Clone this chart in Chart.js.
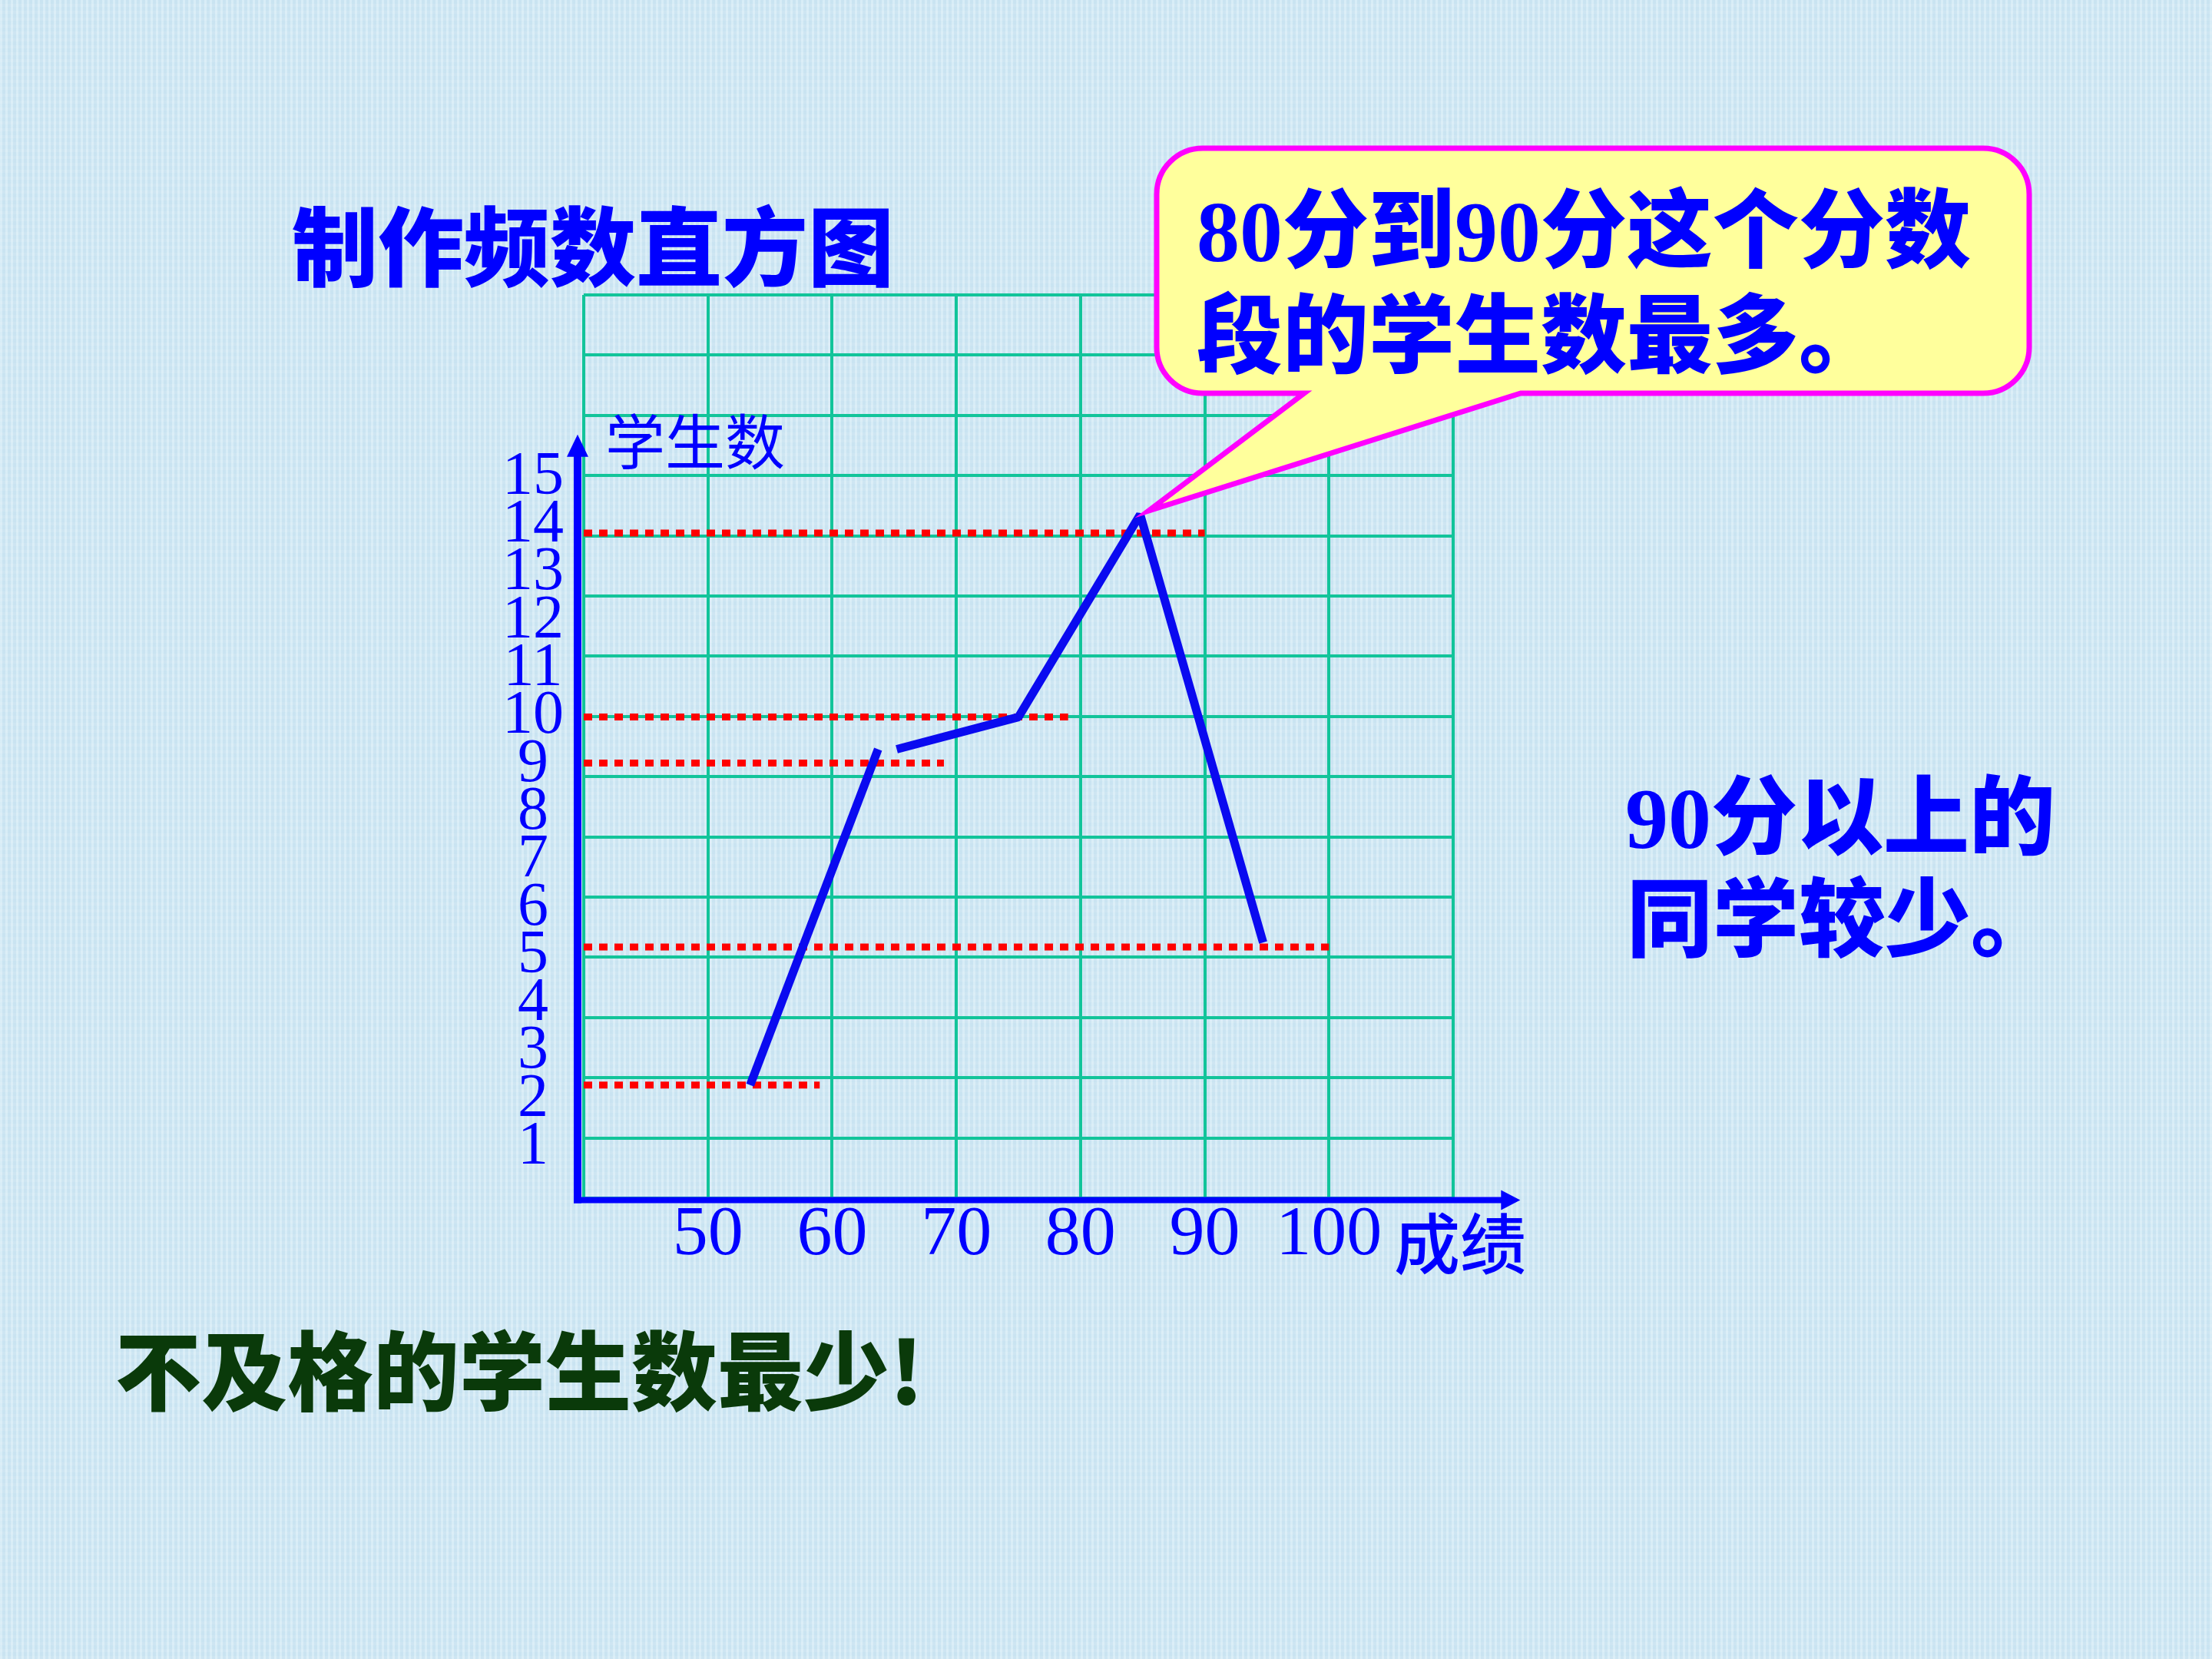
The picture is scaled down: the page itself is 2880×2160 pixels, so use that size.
<!DOCTYPE html>
<html>
<head>
<meta charset="utf-8">
<script src="https://cdn.jsdelivr.net/npm/chart.js@4.4.1/dist/chart.umd.min.js"></script>
<style>
html,body{margin:0;padding:0;}
body{width:2880px;height:2160px;overflow:hidden;background-color:#d0e9f5;
background-image:
 repeating-linear-gradient(90deg, rgba(255,255,255,0.16) 0px, rgba(255,255,255,0.16) 3px, rgba(20,80,140,0.035) 3px, rgba(20,80,140,0.035) 7px),
 repeating-linear-gradient(0deg, rgba(255,255,255,0.10) 0px, rgba(255,255,255,0.10) 4px, rgba(0,0,0,0) 4px, rgba(0,0,0,0) 9px);}
canvas{display:block;}
</style>
</head>
<body>
<canvas id="c" width="2880" height="2160" style="width:2880px;height:2160px"></canvas>
<script>
// ---- data ----
const scoreTickLabels = [50, 60, 70, 80, 90, 100];
const countTickLabels = [1, 2, 3, 4, 5, 6, 7, 8, 9, 10, 11, 12, 13, 14, 15];
const binCounts = [2, 9, 10, 14, 5];            // students in 50-60, 60-70, 70-80, 80-90, 90-100
const guideEndScores = [59, 69, 79, 90, 100];  // where each red dotted guide stops
const lineAScores = [53.4, 63.7];
const lineACounts = [2.0, 9.3];
const lineBScores = [65.2, 75.0, 84.8, 94.7];
const lineBCounts = [9.3, 10.0, 14.4, 5.1];
const titleText = '制作频数直方图';
const calloutLines = ['80分到90分这个分数', '段的学生数最多。'];
const noteLines = ['90分以上的', '同学较少。'];
const bottomText = '不及格的学生数最少!';
const yAxisTitle = '学生数';
const xAxisTitle = '成绩';

const BLUE = '#0000ff';
const GRID = '#12c49a';
const SERIF = "'Liberation Serif','Times New Roman',serif";
const CJK = "'Noto Sans CJK SC','Noto Sans',sans-serif";
const MIX = "'Liberation Serif','Noto Sans CJK SC',serif";

const datasets = [];
datasets.push({
  data: lineAScores.map((x, i) => ({x, y: lineACounts[i]})),
  borderColor: '#0a0af0', borderWidth: 11, pointRadius: 0, tension: 0,
  borderJoinStyle: 'bevel', borderCapStyle: 'butt', xAxisID: 'x', yAxisID: 'y'
});
datasets.push({
  data: lineBScores.map((x, i) => ({x, y: lineBCounts[i]})),
  borderColor: '#0a0af0', borderWidth: 11, pointRadius: 0, tension: 0,
  borderJoinStyle: 'bevel', borderCapStyle: 'butt', xAxisID: 'x', yAxisID: 'y'
});
binCounts.forEach((c, i) => {
  datasets.push({
    data: [{x: 40, y: c}, {x: guideEndScores[i], y: c}],
    borderColor: '#ff0000', borderWidth: 9, borderDash: [11, 9], pointRadius: 0,
    borderCapStyle: 'butt', xAxisID: 'x', yAxisID: 'y'
  });
});

function txt(ctx, s, x, y, font, color) {
  ctx.save();
  ctx.font = font; ctx.fillStyle = color;
  ctx.textAlign = 'left'; ctx.textBaseline = 'alphabetic';
  ctx.fillText(s, x, y);
  ctx.restore();
}

const decor = {
  id: 'decor',
  afterDatasetsDraw(chart) {
    const {ctx, chartArea: ca, scales} = chart;
    const axX = ca.left - 8;
    const axY = ca.bottom + 2.5;
    const yTip = scales.yLab.getPixelForValue(15.9);
    const xTip = scales.x.getPixelForValue(115.4);
    ctx.save();
    ctx.strokeStyle = BLUE; ctx.fillStyle = BLUE;
    ctx.lineWidth = 10;
    ctx.beginPath(); ctx.moveTo(axX, axY + 4); ctx.lineTo(axX, yTip + 26); ctx.stroke();
    ctx.beginPath(); ctx.moveTo(axX, yTip); ctx.lineTo(axX - 14, yTip + 29); ctx.lineTo(axX + 14, yTip + 29); ctx.closePath(); ctx.fill();
    ctx.lineWidth = 8;
    ctx.beginPath(); ctx.moveTo(axX - 5, axY); ctx.lineTo(xTip - 22, axY); ctx.stroke();
    ctx.beginPath(); ctx.moveTo(xTip, axY); ctx.lineTo(xTip - 25, axY - 13); ctx.lineTo(xTip - 25, axY + 13); ctx.closePath(); ctx.fill();
    ctx.restore();
  },
  afterDraw(chart) {
    const {ctx} = chart;
    const meta = chart.getDatasetMeta(1);
    let peak = meta.data[0];
    meta.data.forEach(p => { if (p.y < peak.y) peak = p; });
    const tipX = peak.x + 11, tipY = peak.y - 5;
    const L = 1506, T = 193, R = 2642, B = 512, r = 60;
    const t1 = 1698, t2 = 1980;
    ctx.save();
    ctx.beginPath();
    ctx.moveTo(L + r, T);
    ctx.lineTo(R - r, T); ctx.arcTo(R, T, R, T + r, r);
    ctx.lineTo(R, B - r); ctx.arcTo(R, B, R - r, B, r);
    ctx.lineTo(t2, B); ctx.lineTo(tipX, tipY); ctx.lineTo(t1, B);
    ctx.lineTo(L + r, B); ctx.arcTo(L, B, L, B - r, r);
    ctx.lineTo(L, T + r); ctx.arcTo(L, T, L + r, T, r);
    ctx.closePath();
    ctx.fillStyle = '#ffff9c'; ctx.fill();
    ctx.lineWidth = 7; ctx.strokeStyle = '#ff00ff'; ctx.lineJoin = 'miter'; ctx.stroke();
    ctx.restore();

    txt(ctx, calloutLines[0], 1558, 340, '900 112px ' + MIX, BLUE);
    txt(ctx, calloutLines[1], 1558, 477, '900 112px ' + MIX, BLUE);
    txt(ctx, titleText, 380, 364, '900 112px ' + CJK, BLUE);
    txt(ctx, noteLines[0], 2116, 1104, '900 112px ' + MIX, BLUE);
    txt(ctx, noteLines[1], 2118, 1237, '900 112px ' + MIX, BLUE);
    txt(ctx, bottomText, 150, 1828, '900 112px ' + CJK, '#0a3a0a');
    txt(ctx, yAxisTitle, 788, 605, '78px ' + CJK, BLUE);
    txt(ctx, xAxisTitle, 1815, 1652, '500 86px ' + CJK, BLUE);
  }
};

new Chart(document.getElementById('c'), {
  type: 'line',
  data: {datasets},
  options: {
    responsive: false,
    animation: false,
    devicePixelRatio: 1,
    events: [],
    layout: {autoPadding: false, padding: {left: 0, top: 384, right: 988, bottom: 400}},
    plugins: {legend: {display: false}, tooltip: {enabled: false}, title: {display: false}},
    scales: {
      x: {
        type: 'linear', position: 'bottom', min: 40, max: 110,
        ticks: {
          stepSize: 10, autoSkip: false, maxRotation: 0, minRotation: 0, padding: 3,
          color: BLUE, font: {family: SERIF, size: 92, lineHeight: 1},
          callback: (v) => scoreTickLabels.includes(v) ? String(v) : ''
        },
        grid: {color: GRID, lineWidth: 4, drawTicks: false},
        border: {display: false},
        afterFit: (s) => { s.height = 200; }
      },
      yLab: {
        type: 'linear', position: 'left', min: -0.059, max: 18.817,
        afterBuildTicks: (s) => { s.ticks = countTickLabels.map(v => ({value: v})); },
        ticks: {
          autoSkip: false, crossAlign: 'center', padding: 26, color: BLUE,
          font: {family: SERIF, size: 80, lineHeight: 1}
        },
        grid: {display: false, drawTicks: false},
        border: {display: false},
        afterFit: (s) => { s.width = 760; }
      },
      y: {type: 'linear', display: false, min: -0.457, max: 19.175},
      yGrid: {
        type: 'linear', position: 'right', min: 0, max: 15,
        ticks: {display: false, stepSize: 1},
        grid: {color: GRID, lineWidth: 4, drawTicks: false},
        border: {display: false},
        afterFit: (s) => { s.width = 0; }
      }
    }
  },
  plugins: [decor]
});
</script>
</body>
</html>
